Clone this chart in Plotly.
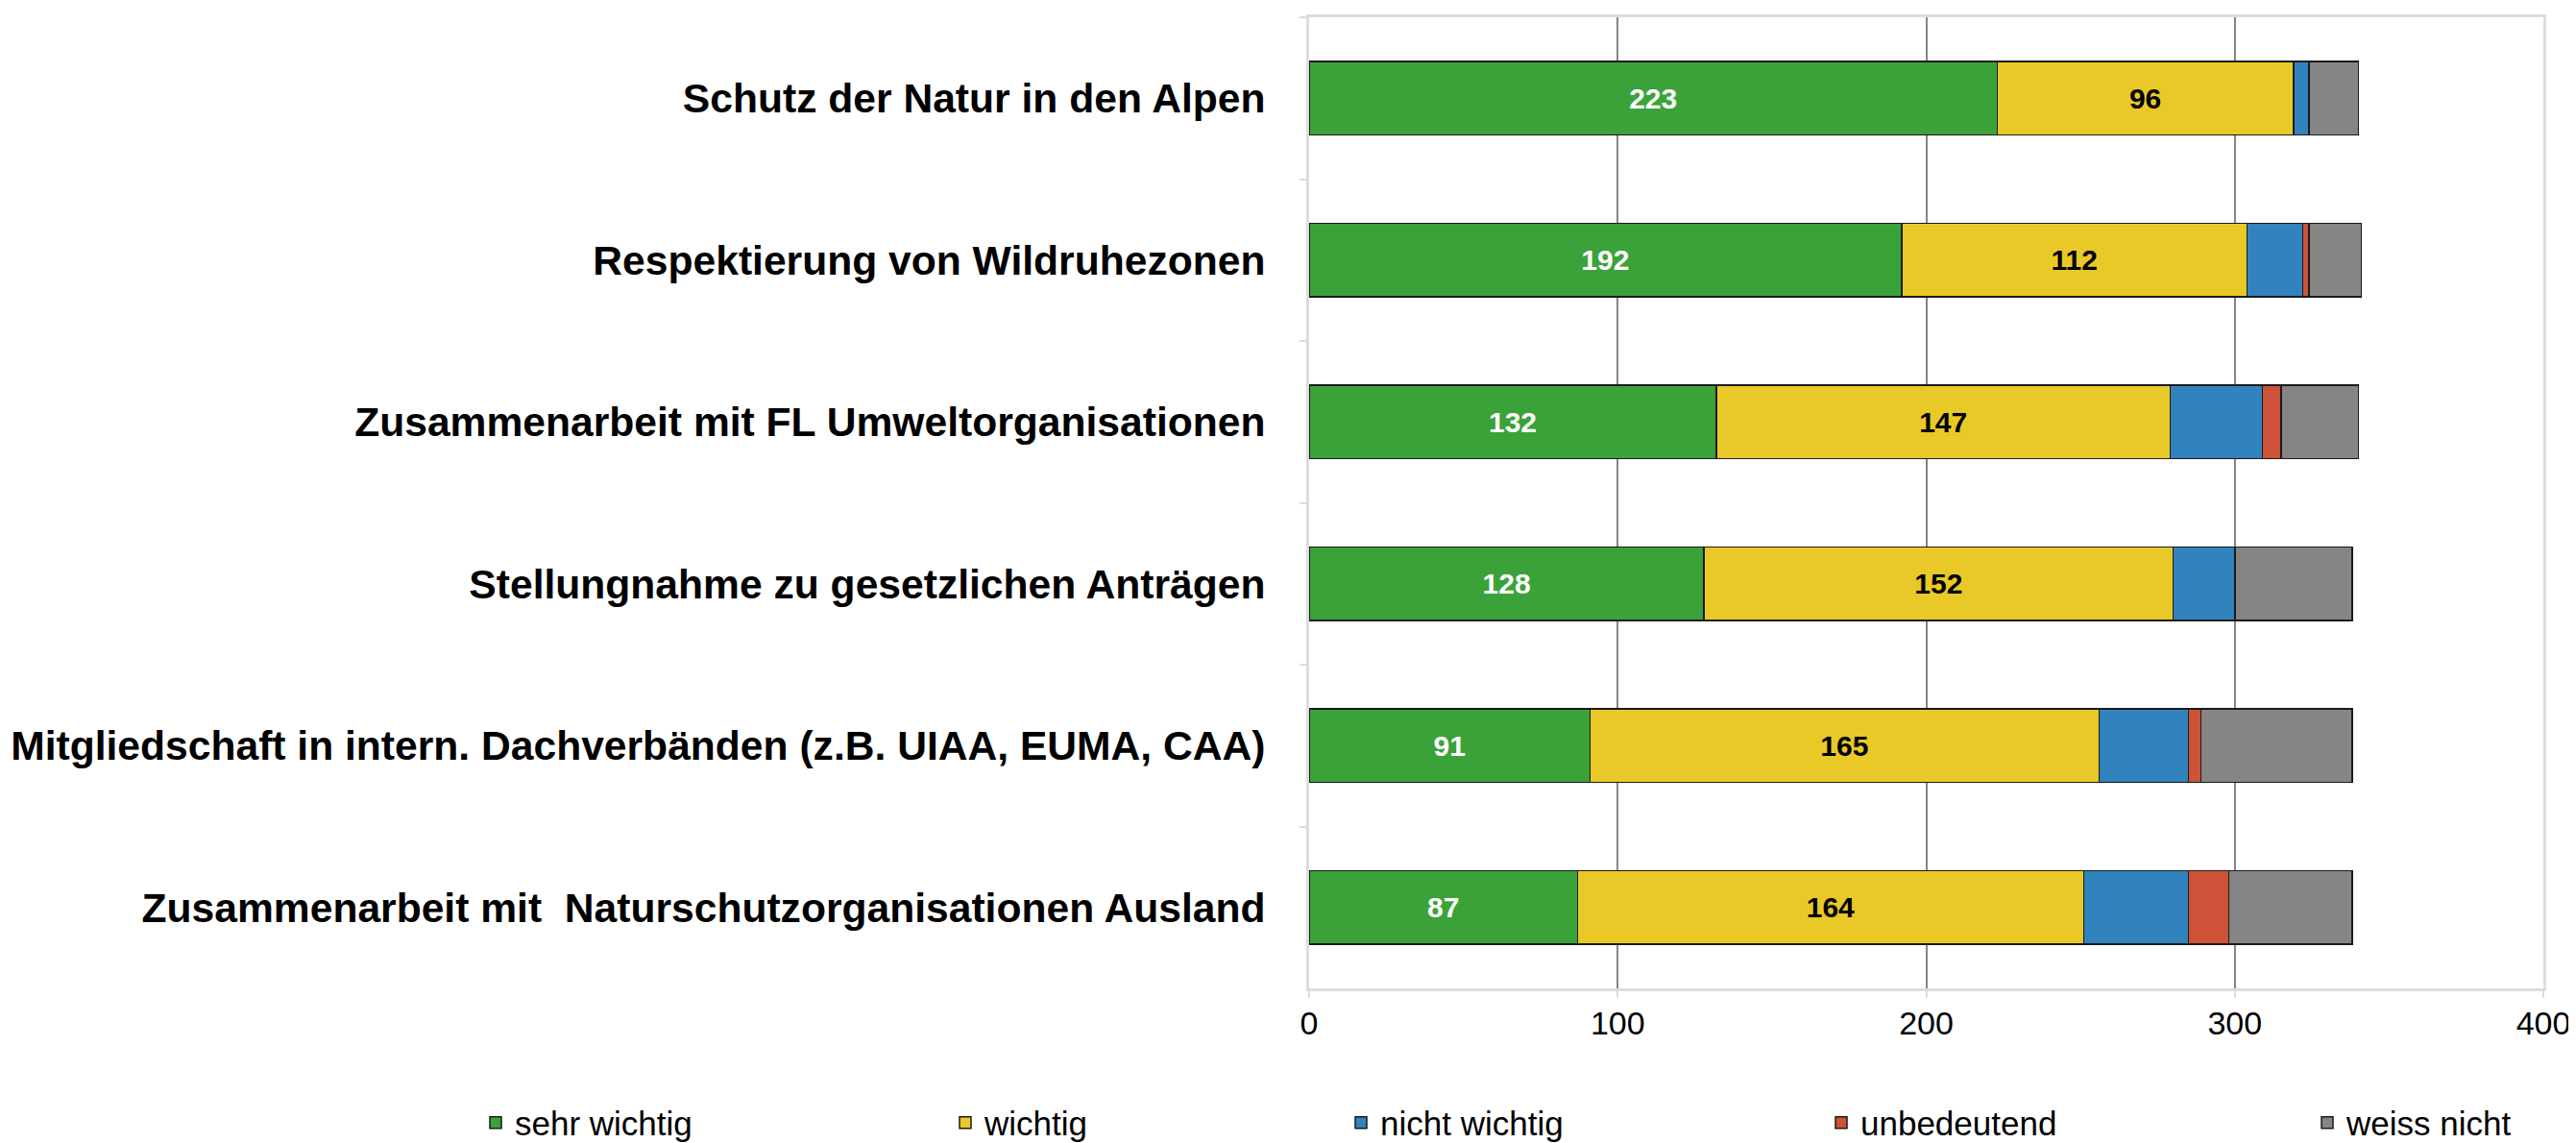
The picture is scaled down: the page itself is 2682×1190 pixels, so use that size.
import plotly.graph_objects as go

categories = [
    "Schutz der Natur in den Alpen",
    "Respektierung von Wildruhezonen",
    "Zusammenarbeit mit FL Umweltorganisationen",
    "Stellungnahme zu gesetzlichen Anträgen",
    "Mitgliedschaft in intern. Dachverbänden (z.B. UIAA, EUMA, CAA)",
    "Zusammenarbeit mit \u00a0Naturschutzorganisationen Ausland",
]
series_names = ["sehr wichtig", "wichtig", "nicht wichtig", "unbedeutend", "weiss nicht"]
sehr_wichtig = [223, 192, 132, 128, 91, 87]
wichtig = [96, 112, 147, 152, 165, 164]
nicht_wichtig = [5, 18, 30, 20, 29, 34]
unbedeutend = [0, 2, 6, 0, 4, 13]
weiss_nicht = [16, 17, 25, 38, 49, 40]
x_ticks = [0, 100, 200, 300, 400]

values = [sehr_wichtig, wichtig, nicht_wichtig, unbedeutend, weiss_nicht]
colors = ["#3ba23a", "#e9c928", "#3183bd", "#cd5238", "#858585"]
show_text = [True, True, False, False, False]
text_colors = ["white", "black", "black", "black", "black"]
legend_ids = ["legend", "legend2", "legend3", "legend4", "legend5"]
legend_text_x = [540, 1029, 1441, 1941, 2447]

FONT = "Liberation Sans, Arial, Helvetica, sans-serif"
OFF = 8  # default page body margin
W, H = 2682 - OFF, 1190 - OFF

fig = go.Figure()
for i, name in enumerate(series_names):
    fig.add_trace(go.Bar(
        name=name,
        y=categories,
        x=values[i],
        orientation="h",
        marker=dict(color=colors[i], line=dict(color="#1a1a1a", width=1.5)),
        text=[str(v) for v in values[i]] if show_text[i] else None,
        texttemplate="%{text}" if show_text[i] else None,
        textposition="inside" if show_text[i] else "none",
        insidetextanchor="middle",
        textangle=0,
        insidetextfont=dict(family=FONT, size=30, color=text_colors[i], weight="bold"),
        legend=legend_ids[i],
        hoverinfo="x+name",
    ))

layout_legends = {}
for i, lid in enumerate(legend_ids):
    layout_legends[lid] = dict(
        xref="container", yref="container",
        x=(legend_text_x[i] - 44 - OFF) / W, y=1 - (1169 - OFF) / H,
        xanchor="left", yanchor="middle",
        orientation="h",
        font=dict(family=FONT, size=35, color="black"),
        bgcolor="rgba(0,0,0,0)",
        itemclick=False, itemdoubleclick=False,
    )

fig.update_layout(
    width=W, height=H,
    margin=dict(l=1363 - OFF, r=34, t=18 - OFF, b=161, autoexpand=False),
    barmode="stack",
    bargap=0.545,
    plot_bgcolor="white",
    paper_bgcolor="white",
    font=dict(family=FONT, color="black"),
    showlegend=True,
    uniformtext=dict(mode=False),
    **layout_legends,
)
fig.update_xaxes(
    range=[0, 400],
    tickvals=x_ticks,
    ticktext=[str(t) for t in x_ticks],
    showgrid=True, gridcolor="#858585", gridwidth=2,
    zeroline=False,
    showline=True, linecolor="#dcdcdc", linewidth=3, mirror=True,
    ticks="outside", ticklen=7, tickcolor="#dcdcdc", tickwidth=2,
    tickfont=dict(family=FONT, size=34, color="black"),
    ticklabelstandoff=-3,
    fixedrange=True,
)
fig.update_yaxes(
    autorange="reversed",
    type="category",
    showgrid=False,
    showline=True, linecolor="#dcdcdc", linewidth=3, mirror=True,
    ticks="outside", ticklen=7, tickcolor="#dcdcdc", tickwidth=2,
    tickson="boundaries",
    tickfont=dict(family=FONT, size=42.6, color="black", weight="bold"),
    ticklabelstandoff=34,
    fixedrange=True,
)

fig.write_html("out.html")
